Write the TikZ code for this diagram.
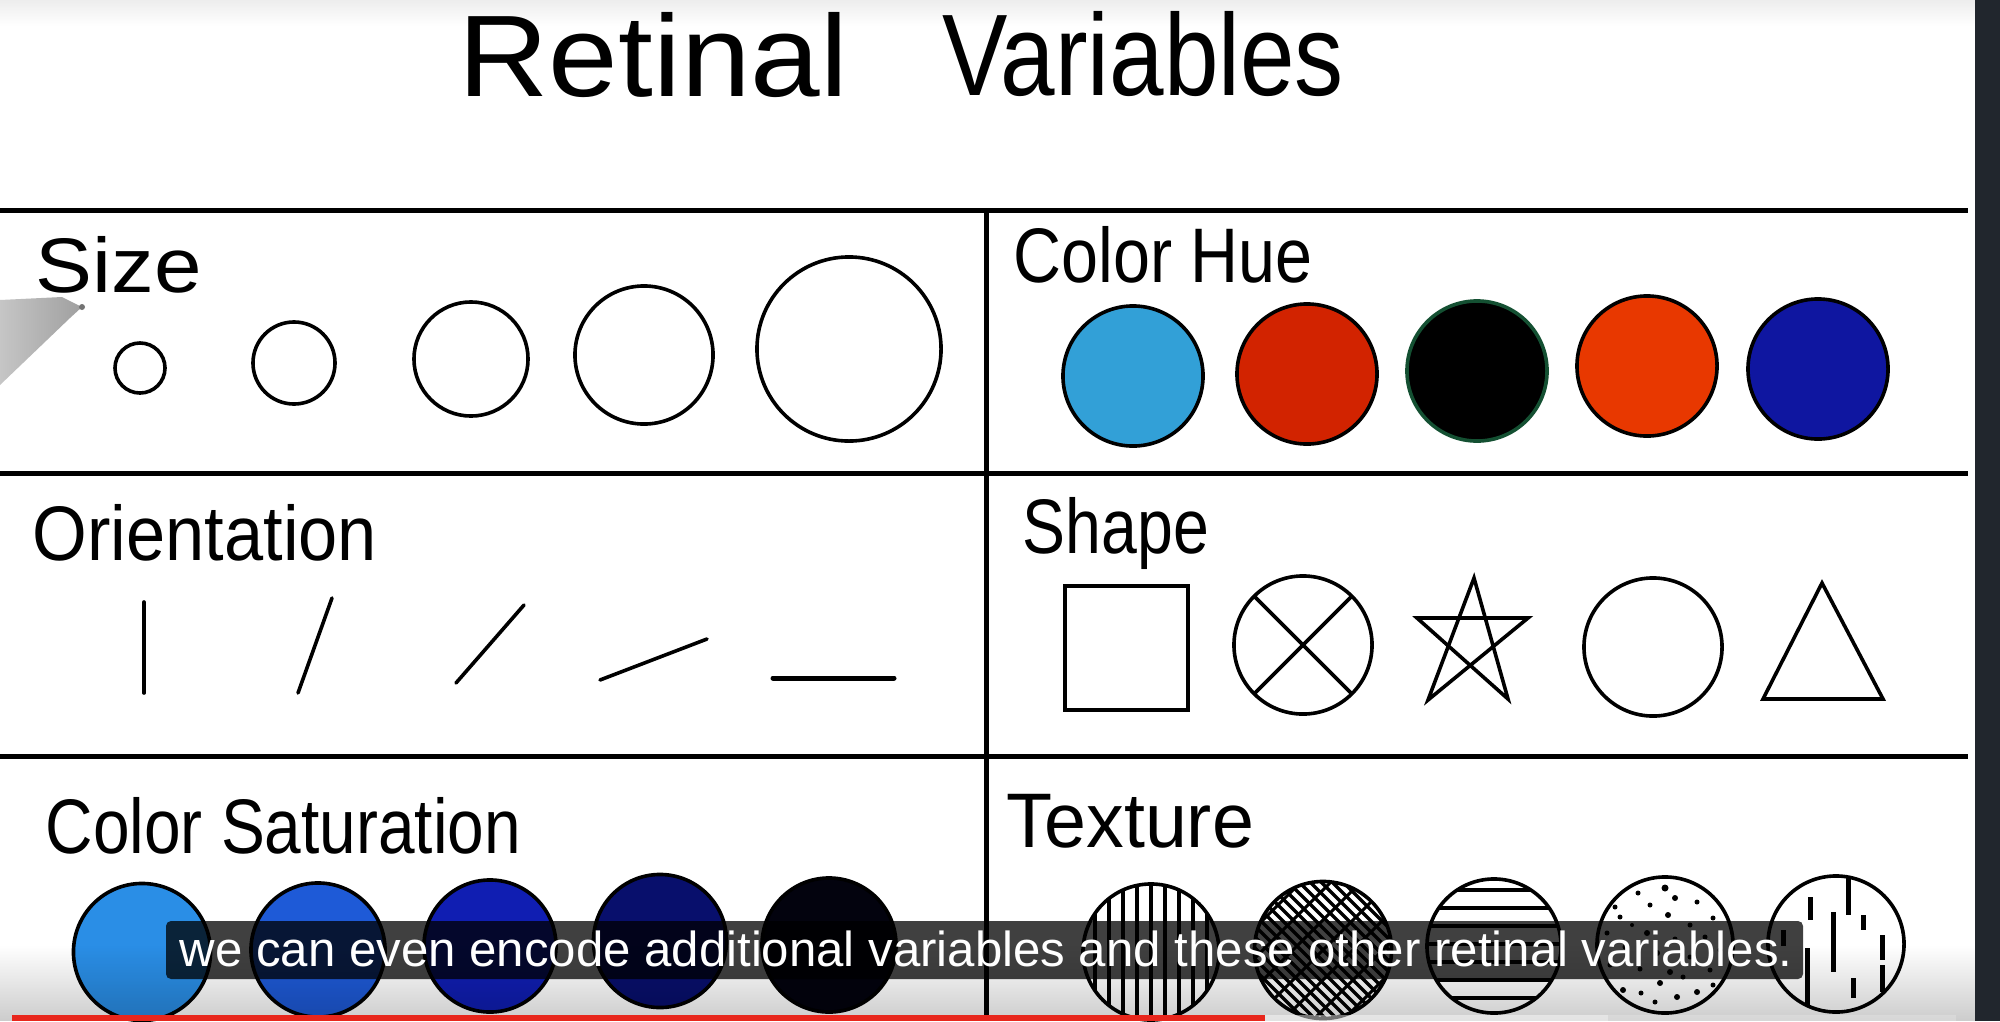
\documentclass[tikz,border=0pt]{standalone}
\usepackage{fontspec}
\setmainfont{Liberation Sans}
\usetikzlibrary{fadings}
\tikzfading[name=fadeup, top color=transparent!100, bottom color=transparent!0]
\tikzfading[name=fadedown, top color=transparent!0, bottom color=transparent!100]
\definecolor{hueA}{RGB}{50,160,215}
\definecolor{hueB}{RGB}{210,35,0}
\definecolor{hueC}{RGB}{0,0,0}
\definecolor{hueD}{RGB}{232,56,0}
\definecolor{hueE}{RGB}{15,22,160}
\definecolor{satA}{RGB}{42,142,230}
\definecolor{satB}{RGB}{30,90,215}
\definecolor{satC}{RGB}{16,30,178}
\definecolor{satD}{RGB}{8,15,108}
\definecolor{satE}{RGB}{3,3,14}
\definecolor{greenedge}{RGB}{20,80,50}
\definecolor{stripc}{RGB}{33,38,45}
\definecolor{ytred}{RGB}{232,38,28}
\tikzset{
  divider/.style={line width=0.05cm, draw=black},
  pen/.style={line width=0.036cm, draw=black},
  thickpen/.style={line width=0.05cm, draw=black},
  label/.style={anchor=base west, inner sep=0pt, font=\fontsize{22pt}{24pt}\selectfont},
  titlefont/.style={anchor=base west, inner sep=0pt, font=\fontsize{33pt}{36pt}\selectfont},
  texline/.style={line width=0.04cm, draw=black},
}
\begin{document}
\begin{tikzpicture}[x=0.01cm, y=-0.01cm]
\useasboundingbox (0,0) rectangle (2000,1021);
\clip (0,0) rectangle (2000,1021);
\fill[white] (0,0) rectangle (2000,1021);
\fill[black, opacity=0.07, path fading=fadedown] (0,0) rectangle (1975,26);

% title
\node[titlefont] (t1) at (458,97) {\resizebox{3.89cm}{\height}{Retinal}};
\node[titlefont] (t2) at (942,95) {\resizebox{4.01cm}{\height}{Variables}};

% grid
\draw[divider] (0,210) -- (1968,210);
\draw[divider] (0,473) -- (1968,473);
\draw[divider] (0,756) -- (1968,756);
\draw[divider] (986,210) -- (986,1021);

% labels
\node[label] (lsize) at (35,292) {\resizebox{1.66cm}{\height}{Size}};
\node[label] (lhue) at (1013,282) {\resizebox{2.99cm}{\height}{Color Hue}};
\node[label] (lori) at (32,560) {\resizebox{3.44cm}{\height}{Orientation}};
\node[label] (lshape) at (1022,553) {\resizebox{1.86cm}{\height}{Shape}};
\node[label] (lsat) at (45,853) {\resizebox{4.75cm}{\height}{Color Saturation}};
\node[label] (ltex) at (1006,847) {\resizebox{2.47cm}{\height}{Texture}};

% pen
\shade[left color=gray!45, right color=gray!75] (0,300) -- (62,297) -- (82,307) -- (70,318) -- (0,385) -- cycle;
\fill[gray!90!black] (82,307) circle[radius=0.03cm];

% size circles
\draw[pen] (140,368) circle[radius=0.25cm];
\draw[pen] (294,363) circle[radius=0.41cm];
\draw[pen] (471,359) circle[radius=0.57cm];
\draw[pen] (644,355) circle[radius=0.69cm];
\draw[pen] (849,349) circle[radius=0.92cm];

% hue circles
\filldraw[pen, fill=hueA] (1133,376) circle[radius=0.70cm];
\filldraw[pen, fill=hueB] (1307,374) circle[radius=0.70cm];
\filldraw[line width=0.036cm, draw=greenedge, fill=hueC] (1477,371) circle[radius=0.70cm];
\filldraw[pen, fill=hueD] (1647,366) circle[radius=0.70cm];
\filldraw[pen, fill=hueE] (1818,369) circle[radius=0.70cm];

% orientation
\draw[pen, line cap=round] (144,602) -- (144,693);
\draw[pen, line cap=round] (332,598) -- (298,693);
\draw[pen, line cap=round] (524,605) -- (456,683);
\draw[pen, line cap=round] (707,639) -- (600,680);
\draw[thickpen, line cap=round] (773,678) -- (894,678);

% shapes
\draw[pen] (1065,586) rectangle (1188,710);
\draw[pen] (1303,645) circle[radius=0.69cm];
\draw[pen] (1254,596) -- (1352,694);
\draw[pen] (1352,596) -- (1254,694);
\draw[pen, line join=miter] (1474,578) -- (1428,700) -- (1528,618) -- (1417,618) -- (1508,699) -- cycle;
\draw[pen] (1653,647) circle[radius=0.69cm];
\draw[pen, line join=miter] (1822,583) -- (1883,699) -- (1763,699) -- cycle;

% saturation circles
\filldraw[pen, fill=satA] (142,952) circle[radius=0.685cm];
\filldraw[pen, fill=satB] (318,950) circle[radius=0.67cm];
\filldraw[pen, fill=satC] (490,946) circle[radius=0.66cm];
\filldraw[pen, fill=satD] (660,941) circle[radius=0.665cm];
\filldraw[pen, fill=satE] (829,945) circle[radius=0.67cm];

% texture 1: vertical lines
\begin{scope}
\clip (1151,952) circle[radius=0.68cm];
\foreach \k in {-56,-42,-28,-14,0,14,28,42,56}
  \draw[texline] (1151+\k,870) -- (1151+\k,1030);
\end{scope}
\draw[pen] (1151,952) circle[radius=0.68cm];

% texture 2: crosshatch
\begin{scope}
\clip (1323,950) circle[radius=0.685cm];
\foreach \k in {-187,-176,...,187}
  \draw[line width=0.035cm] (1323+\k-100,850) -- (1323+\k+100,1050);
\foreach \k in {-150,-120,...,150}
  \draw[line width=0.03cm] (1323+\k+100,850) -- (1323+\k-100,1050);
\end{scope}
\draw[pen] (1323,950) circle[radius=0.685cm];

% texture 3: horizontal stripes
\begin{scope}
\clip (1494,946) circle[radius=0.67cm];
\foreach \k in {-56,-38,-20,-2,16,34,52,70}
  \draw[line width=0.045cm] (1420,946+\k) -- (1570,946+\k);
\end{scope}
\draw[pen] (1494,946) circle[radius=0.67cm];

% texture 4: dots
\foreach \dx/\dy/\r in {0/-57/3.5,-27/-52/2.5,10/-47/3,-50/-38/2.5,-15/-40/2.5,32/-43/2.5,-45/-28/2.5,3/-30/3,48/-27/2.5,-33/-20/2,25/-20/2.5,-58/-12/2.5,-18/-12/3,40/-8/2.5,10/-6/2.5,-40/2/2.5,55/5/2.5,-8/8/3,25/12/2.5,-55/20/2.5,-25/24/2.5,45/25/2.5,5/27/3,-42/45/3,-24/48/2.5,-5/38/3,18/32/2.5,32/47/3,12/52/3,-10/57/2.5,48/40/2.5}
  \fill (1665+\dx,945+\dy) circle[radius=\r*0.01cm];
\draw[pen] (1665,945) circle[radius=0.68cm];

% texture 5: random dashes
\begin{scope}
\clip (1836,944) circle[radius=0.68cm];
\foreach \xx/\ya/\yb in {1810/897/920,1833/912/972,1848/870/915,1863/915/930,1882/935/960,1807/948/1012,1853/978/998,1882/965/992,1783/930/946}
  \draw[line width=0.05cm] (\xx,\ya) -- (\xx,\yb);
\end{scope}
\draw[pen] (1836,944) circle[radius=0.68cm];

% bottom video gradient
\fill[black, opacity=0.2, path fading=fadeup] (0,945) rectangle (1975,1021);

% subtitle
\fill[black, fill opacity=0.75, rounded corners=0.05cm] (166,921) rectangle (1803,979);
\node[anchor=base west, inner sep=0pt, text=white, font=\fontsize{12pt}{14pt}\selectfont] (sub) at (179,966)
  {\resizebox{16.12cm}{!}{we can even encode additional variables and these other retinal variables.}};

% progress bar
\fill[ytred] (12,1015) rectangle (1265,1021);
\fill[white, opacity=0.45] (1265,1015) rectangle (1608,1021);
\fill[white, opacity=0.2] (1608,1015) rectangle (1956,1021);

% right strip
\fill[stripc] (1975,0) rectangle (2000,1021);
\end{tikzpicture}
\end{document}
